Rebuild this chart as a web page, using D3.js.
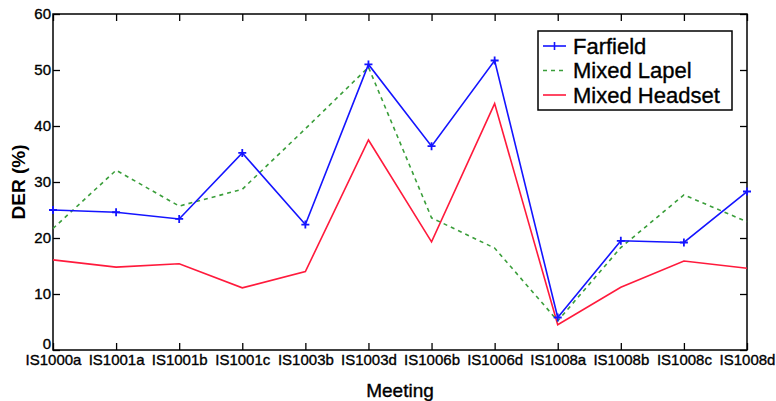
<!DOCTYPE html>
<html>
<head>
<meta charset="utf-8">
<script src="https://cdn.jsdelivr.net/npm/d3@7"></script>
<style>
  body { margin: 0; background: #fff; }
  text { font-family: "Liberation Sans", Arial, sans-serif; fill: #000; stroke: #000; stroke-width: 0.35px; }
</style>
</head>
<body>
<div id="chart"></div>
<script>
// Data
const meetings = ['IS1000a', 'IS1001a', 'IS1001b', 'IS1001c', 'IS1003b', 'IS1003d',
    'IS1006b', 'IS1006d', 'IS1008a', 'IS1008b', 'IS1008c', 'IS1008d'];
const farfield = [25.0, 24.6, 23.4, 35.2, 22.4, 51.0, 36.4, 51.7, 5.8, 19.5, 19.2, 28.3];
const mixedLapel = [21.7, 32.1, 25.7, 28.7, 39.5, 50.5, 23.6, 18.2, 5.2, 18.3, 27.7, 22.9];
const mixedHeadset = [16.1, 14.8, 15.4, 11.1, 14.0, 37.5, 19.3, 44.0, 4.5, 11.2, 15.9, 14.6];
const yTicks = [0, 10, 20, 30, 40, 50, 60];

const series = [
    { name: 'Farfield', values: farfield, color: '#1414ff', dash: null, marker: true },
    { name: 'Mixed Lapel', values: mixedLapel, color: '#3a9e3a', dash: '4,4', marker: false },
    { name: 'Mixed Headset', values: mixedHeadset, color: '#ff1a3c', dash: null, marker: false }
];

const config = {
    width: 776, height: 401,
    margin: { top: 14, right: 29, bottom: 51, left: 53 }
};
const w = config.width - config.margin.left - config.margin.right;
const h = config.height - config.margin.top - config.margin.bottom;

const svg = d3.select('#chart').append('svg')
    .attr('width', config.width)
    .attr('height', config.height);

const chart = svg.append('g')
    .attr('transform', `translate(${config.margin.left},${config.margin.top})`);

const xScale = d3.scalePoint().domain(meetings).range([0, w]).padding(0);
const yScale = d3.scaleLinear().domain([0, 60]).range([h, 0]);

// box-style axes, ticks pointing inward
const styleAxis = g => {
    g.select('.domain').remove();
    g.selectAll('.tick line').attr('stroke', '#000').attr('stroke-width', 1.3);
};

chart.append('g')
    .attr('transform', `translate(0,${h})`)
    .call(d3.axisBottom(xScale).tickSizeInner(-7).tickSizeOuter(0).tickPadding(4))
    .call(styleAxis)
    .call(g => g.selectAll('.tick text').attr('font-size', 15).attr('font-family', '"Liberation Sans", Arial, sans-serif'));

chart.append('g')
    .call(d3.axisTop(xScale).tickSizeInner(-7).tickSizeOuter(0).tickFormat(''))
    .call(styleAxis);

chart.append('g')
    .call(d3.axisLeft(yScale).tickValues(yTicks).tickSizeInner(-7).tickSizeOuter(0).tickPadding(2))
    .call(styleAxis)
    .call(g => g.selectAll('.tick text').attr('font-size', 15).attr('font-family', '"Liberation Sans", Arial, sans-serif'))
    // the zero label sits a little higher, clear of the first meeting label
    .call(g => g.selectAll('.tick text').filter(d => d === 0).attr('dy', '-0.12em'));

chart.append('g')
    .attr('transform', `translate(${w},0)`)
    .call(d3.axisRight(yScale).tickValues(yTicks).tickSizeInner(-7).tickSizeOuter(0).tickFormat(''))
    .call(styleAxis);

chart.append('rect')
    .attr('width', w).attr('height', h)
    .attr('fill', 'none').attr('stroke', '#000').attr('stroke-width', 1.5);

// lines
const line = d3.line()
    .x((d, i) => xScale(meetings[i]))
    .y(d => yScale(d));

const lines = chart.append('g');
series.slice().reverse().forEach(s => {
    lines.append('path')
        .datum(s.values)
        .attr('fill', 'none')
        .attr('stroke', s.color)
        .attr('stroke-width', 1.6)
        .attr('stroke-dasharray', s.dash)
        .attr('d', line);
    if (s.marker) {
        lines.selectAll(null)
            .data(s.values)
            .join('path')
            .attr('transform', (d, i) => `translate(${xScale(meetings[i])},${yScale(d)})`)
            .attr('d', 'M-4,0H4M0,-4V4')
            .attr('stroke', s.color)
            .attr('stroke-width', 1.8);
    }
});

// axis titles
svg.append('text')
    .attr('x', config.margin.left + w / 2)
    .attr('y', 397)
    .attr('text-anchor', 'middle')
    .attr('font-size', 19)
    .text('Meeting');

svg.append('text')
    .attr('transform', `translate(25,${config.margin.top + h / 2}) rotate(-90)`)
    .attr('text-anchor', 'middle')
    .attr('font-size', 19)
    .attr('font-weight', 'bold')
    .style('stroke-width', 0)
    .text('DER (%)');

// legend
const legend = svg.append('g').attr('transform', 'translate(538,31)');
legend.append('rect')
    .attr('width', 194).attr('height', 79)
    .attr('fill', '#fff').attr('stroke', '#000').attr('stroke-width', 1.5);

const items = legend.selectAll('.legend-item')
    .data(series)
    .join('g')
    .attr('class', 'legend-item')
    .attr('transform', (d, i) => `translate(0,${15 + i * 24.5})`);

items.append('line')
    .attr('x1', 5).attr('x2', 28)
    .attr('stroke', d => d.color)
    .attr('stroke-width', 1.6)
    .attr('stroke-dasharray', d => d.dash);

items.filter(d => d.marker).append('path')
    .attr('d', 'M16.5,-4V4')
    .attr('stroke', d => d.color)
    .attr('stroke-width', 1.6);

items.append('text')
    .attr('x', 35)
    .attr('dy', '0.36em')
    .attr('font-size', 22)
    .text(d => d.name);
</script>
</body>
</html>
